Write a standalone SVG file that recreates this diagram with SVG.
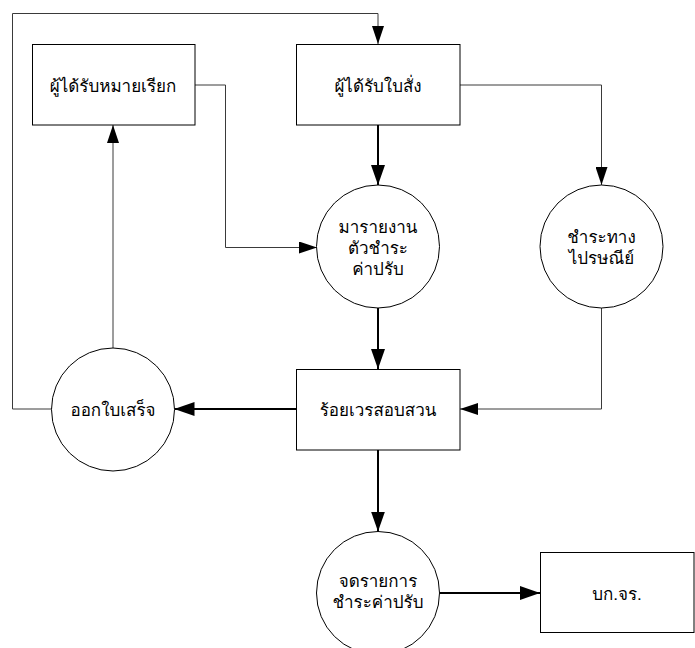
<svg xmlns="http://www.w3.org/2000/svg" width="695" height="648" viewBox="0 0 695 648">
  <style>
    .box { fill: #ffffff; stroke: #000000; stroke-width: 1; }
    .proc { fill: #ffffff; stroke: #000000; stroke-width: 1; }
    .label { font-family: "Tahoma", "Loma", "Noto Sans Thai Looped", "Garuda", "Waree", "Noto Sans Thai", "Noto Sans", sans-serif; font-size: 17px; fill: #000000; text-anchor: middle; }
    .thin { fill: none; stroke: #3a3a3a; stroke-width: 1; }
    .thick { fill: none; stroke: #000000; stroke-width: 2; }
  </style>
  <defs>
    <marker id="headThick" markerUnits="userSpaceOnUse" markerWidth="20" markerHeight="14" refX="20" refY="7" orient="auto">
      <path d="M0,0 L20,7 L0,14 Z" fill="#000000"/>
    </marker>
    <marker id="headThin" markerUnits="userSpaceOnUse" markerWidth="18" markerHeight="12" refX="18" refY="6" orient="auto">
      <path d="M0,0 L18,6 L0,12 Z" fill="#000000"/>
    </marker>
  </defs>

  <rect width="695" height="648" fill="#ffffff"/>

  <!-- connectors -->
  <g id="connectors">
    <!-- feedback loop around the top: receipt back to ticket holder -->
    <path class="thin" d="M52,409 H12.5 V13.5 H378 V44" marker-end="url(#headThin)"/>
    <!-- receipt up to summons holder -->
    <path class="thin" d="M113,348 V125" marker-end="url(#headThin)"/>
    <!-- summons holder to report in person -->
    <path class="thin" d="M195,85 H225.5 V247.5 H317" marker-end="url(#headThin)"/>
    <!-- ticket holder to postal payment -->
    <path class="thin" d="M460,85 H601.5 V185" marker-end="url(#headThin)"/>
    <!-- postal payment to duty officer -->
    <path class="thin" d="M601.5,308 V409 H460" marker-end="url(#headThin)"/>
    <!-- main flow -->
    <path class="thick" d="M378,125 V185" marker-end="url(#headThick)"/>
    <path class="thick" d="M378,308 V369" marker-end="url(#headThick)"/>
    <path class="thick" d="M296.5,409 H174.5" marker-end="url(#headThick)"/>
    <path class="thick" d="M378,450 V531.5" marker-end="url(#headThick)"/>
    <path class="thick" d="M440,593 H540" marker-end="url(#headThick)"/>
  </g>

  <g id="summons-holder">
    <rect class="box" x="32.5" y="44.5" width="162.5" height="80.5"/>
    <text class="label" x="113" y="92">ผู้ได้รับหมายเรียก</text>
  </g>

  <g id="ticket-holder">
    <rect class="box" x="296.5" y="44.5" width="163.5" height="80.5"/>
    <text class="label" x="378" y="92">ผู้ได้รับใบสั่ง</text>
  </g>

  <g id="report-in-person">
    <circle class="proc" cx="378" cy="246.5" r="61.5"/>
    <text class="label" x="378" y="233">มารายงาน</text>
    <text class="label" x="378" y="254">ตัวชำระ</text>
    <text class="label" x="378" y="275">ค่าปรับ</text>
  </g>

  <g id="postal-payment">
    <circle class="proc" cx="601.5" cy="246.5" r="61.5"/>
    <text class="label" x="601.5" y="243">ชำระทาง</text>
    <text class="label" x="601.5" y="264">ไปรษณีย์</text>
  </g>

  <g id="duty-officer">
    <rect class="box" x="296.5" y="369.5" width="163.5" height="80.5"/>
    <text class="label" x="378" y="416">ร้อยเวรสอบสวน</text>
  </g>

  <g id="issue-receipt">
    <circle class="proc" cx="113" cy="409.5" r="61.5"/>
    <text class="label" x="113" y="416">ออกใบเสร็จ</text>
  </g>

  <g id="record-payment">
    <circle class="proc" cx="378" cy="593" r="61.5"/>
    <text class="label" x="378" y="587">จดรายการ</text>
    <text class="label" x="378" y="608">ชำระค่าปรับ</text>
  </g>

  <g id="traffic-police">
    <rect class="box" x="540.5" y="552.5" width="153.5" height="80"/>
    <text class="label" x="617" y="600">บก.จร.</text>
  </g>
</svg>
